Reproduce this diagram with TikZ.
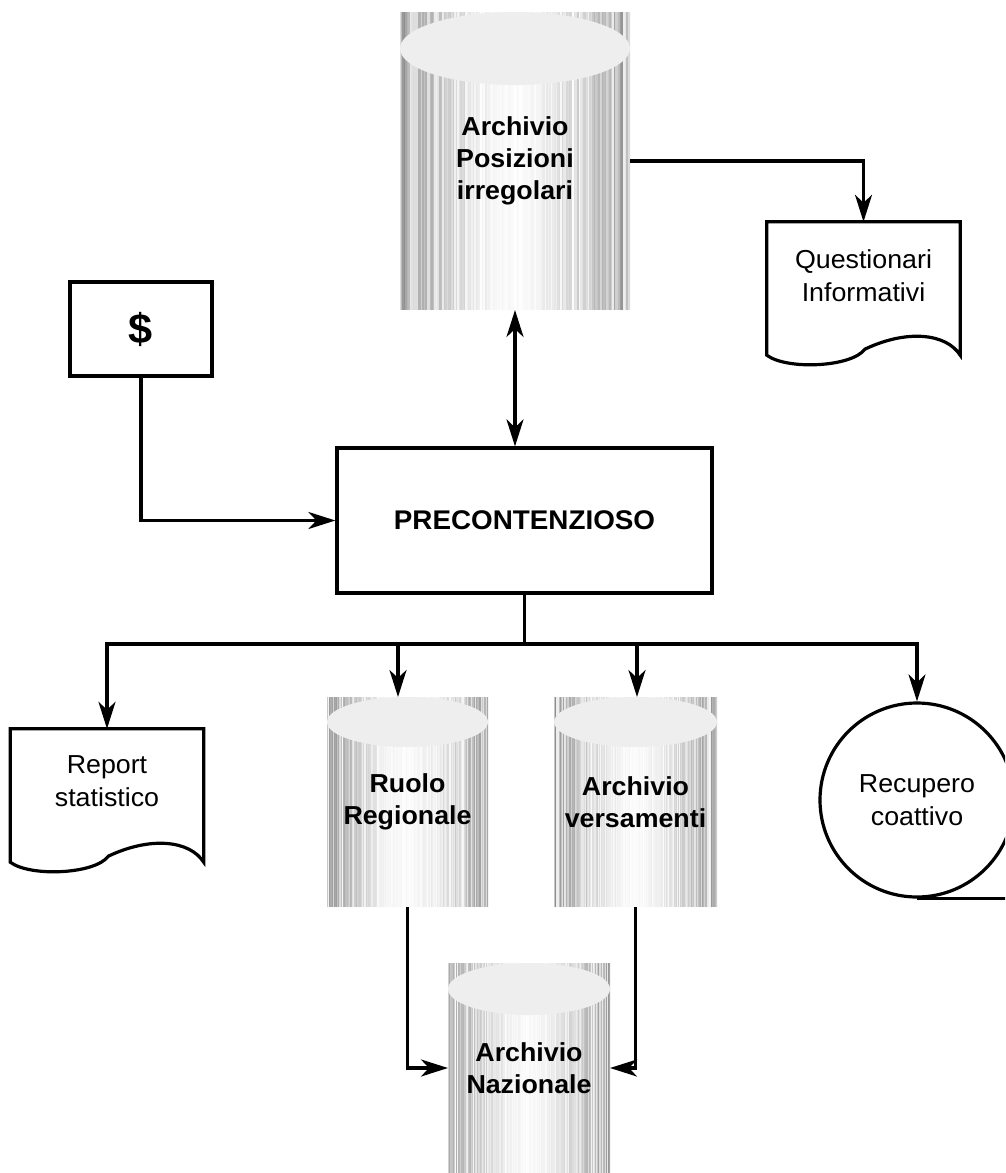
\documentclass[tikz,border=0pt]{standalone}
\usepackage{fontspec}
\setmainfont{Liberation Sans}[FakeStretch=1.03]
\usetikzlibrary{arrows.meta,calc}
\definecolor{topgray}{HTML}{EEEEEE}
\newcommand\docoutline[1]{%
  \draw[line] (#1.south west) -- (#1.north west) -- (#1.north east) -- (#1.south east)
    .. controls ($(#1.south east)+(-14,-22)$) and ($(#1.south west)+(140,-26)$) .. ($(#1.south west)+(98,-6)$)
    .. controls ($(#1.south west)+(85,12)$) and ($(#1.south west)+(20,15)$) .. (#1.south west) -- cycle;}
\begin{document}
\begin{tikzpicture}[x=1pt,y=-1pt,
  line/.style={line width=3.2pt},
  tip/.tip={Stealth[length=27pt,width=17pt,inset=8pt]},
  arr/.style={line, -tip},
  darr/.style={line, tip-tip},
  lbl/.style={font=\fontsize{26}{33}\selectfont, align=center, inner sep=0pt},
  box/.style={draw, line width=3.2pt, rectangle, inner sep=0pt, font=\bfseries\fontsize{27}{33}\selectfont, align=center},
  docshape/.style={rectangle, draw=none, inner sep=0pt, minimum width=193, minimum height=133},
  cyl/.style n args={3}{rectangle, inner sep=0pt, outer sep=0pt, minimum width=#1, minimum height=#2,
    align=center, font=\bfseries\fontsize{26}{32}\selectfont,
    path picture={
      \foreach \k in {0,...,150}{
        \pgfmathsetmacro\stripedist{abs(\k/75-1)}
        \pgfmathsetmacro\stripeval{3*rnd + 45*(\stripedist^1.4)*(rnd^0.7)}
        \draw[black!\stripeval, line width=1.7pt]
          ($(path picture bounding box.south west)!\k/150!(path picture bounding box.south east)$) --
          ($(path picture bounding box.north west)!\k/150!(path picture bounding box.north east)$);
      }
      \fill[topgray] ($(path picture bounding box.north)+(0,#3/2)$) ellipse ({#1/2} and {#3/2});
    }},
]
\pgfmathsetseed{7}
\useasboundingbox (0,0) rectangle (1005,1173);
\fill[white] (0,0) rectangle (1005,1173);
\clip (0,0) rectangle (1005,1173);

% cylinders
\node[cyl={230}{298}{73}] (arch) at (515,161) {Archivio\\Posizioni\\irregolari};
\node[cyl={161}{210}{50}] (ruolo) at (407.5,802) {Ruolo\\Regionale};
\node[cyl={163}{210}{50}] (vers) at (635.5,802) {Archivio\\versamenti};
\node[cyl={162}{210}{52}] (naz) at (529,1068) {Archivio\\Nazionale};

% boxes
\node[box, minimum width=142, minimum height=94, font=\bfseries\fontsize{42}{48}\selectfont] (dollar) at (141,329) {\$};
\node[box, minimum width=375, minimum height=145] (pre) at (524.5,520.5) {PRECONTENZIOSO};

% documents
\node[docshape] (quest) at (863.5,288.5) {};
\node[lbl] (questt) at ($(quest.center)+(0,-13)$) {Questionari\\Informativi};
\docoutline{quest}
\node[docshape] (rep) at (107,795.5) {};
\node[lbl] (rept) at ($(rep.center)+(0,-14)$) {Report\\statistico};
\docoutline{rep}

% tape
\node[draw, circle, line width=3.2pt, minimum size=194, inner sep=0pt, font=\fontsize{26}{33}\selectfont, align=center] (rec) at (917,800) {Recupero\\coattivo};
\coordinate (tapeend) at (1010,897);
\draw[line] (rec.south) -- (rec.south -| tapeend);

% connectors
\draw[darr] (arch.south) -- (arch.south |- pre.north);
\draw[arr] (arch.east) -| (quest.north);
\draw[arr] (dollar.south) |- (pre.west);
\coordinate (bus) at (524.5,644);
\draw[line] (pre.south) -- (bus);
\draw[arr] (bus) -| (rep.north);
\draw[arr] (bus) -| ([xshift=-9.5pt]ruolo.north);
\draw[arr] (bus) -| ([xshift=1.5pt]vers.north);
\draw[arr] (bus) -| (rec.north);
\draw[arr] (ruolo.south) |- (naz.west);
\draw[arr] (vers.south) |- (naz.east);
\end{tikzpicture}
\end{document}
